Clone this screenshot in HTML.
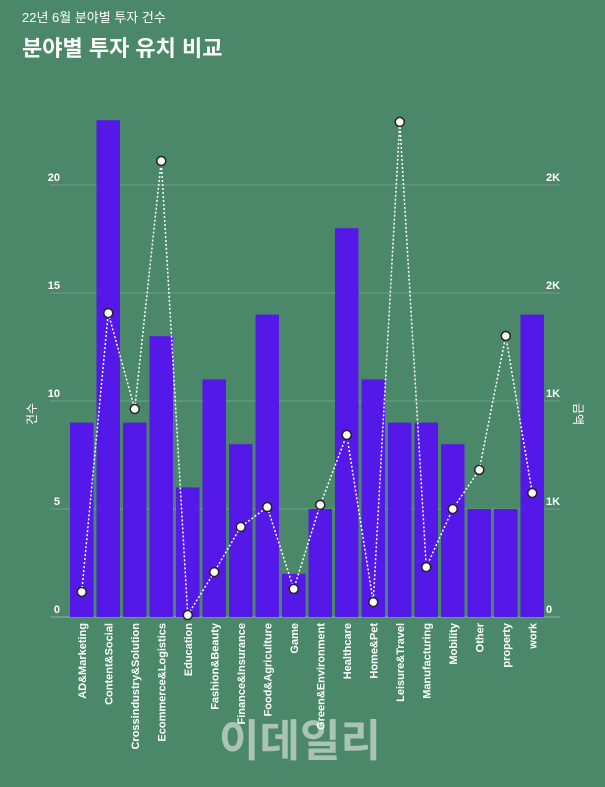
<!DOCTYPE html>
<html><head><meta charset="utf-8">
<style>
body{margin:0;background:#4b886a;width:605px;height:782px;overflow:hidden;font-family:"Liberation Sans","Noto Sans CJK KR",sans-serif}
</style></head>
<body>
<svg id="c" width="605" height="782" xmlns="http://www.w3.org/2000/svg">
<text x="22" y="22" font-size="13" fill="#fff" font-family="Liberation Sans, Noto Sans CJK KR, sans-serif">22년 6월 분야별 투자 건수</text>
<text x="22" y="56" font-size="22" font-weight="bold" fill="#fff" font-family="Liberation Sans, Noto Sans CJK KR, sans-serif">분야별 투자 유치 비교</text>
<text transform="translate(36,414) rotate(-90)" text-anchor="middle" font-size="12" fill="#fff" font-family="Liberation Sans, Noto Sans CJK KR, sans-serif">건수</text>
<text transform="translate(574,414) rotate(90)" text-anchor="middle" font-size="12" fill="#fff" font-family="Liberation Sans, Noto Sans CJK KR, sans-serif">금액</text>
<text x="300" y="756" text-anchor="middle" font-size="44" font-weight="bold" fill="#a9c4b4" font-family="Liberation Sans, Noto Sans CJK KR, sans-serif">이데일리</text>
<g id="g"></g>
</svg>
<script>
const categories=["AD&Marketing","Content&Social","Crossindustry&Solution","Ecommerce&Logistics","Education","Fashion&Beauty","Finance&Insurance","Food&Agriculture","Game","Green&Environment","Healthcare","Home&Pet","Leisure&Travel","Manufacturing","Mobility","Other","property","work"];
const counts=[9,23,9,13,6,11,8,14,2,5,18,11,9,9,8,5,5,14];
const amounts=[116,1407,963,2111,9,208,417,509,130,519,843,69,2292,231,500,681,1301,574];
const leftTicks=[0,5,10,15,20];
const rightTicks=[0,500,1000,1500,2000];
const rightTickLabels=["0","1K","1K","2K","2K"];
const NS="http://www.w3.org/2000/svg";
const g=document.getElementById('g');
const y0=617,pxPerUnit=21.6;
const yL=v=>y0-v*pxPerUnit;
const yR=v=>y0-v*0.216;
const step=26.5,bw=23.5;
const xC=i=>70+bw/2+i*step;
function mk(t,a){const e=document.createElementNS(NS,t);for(const k in a)e.setAttribute(k,a[k]);g.appendChild(e);return e;}
leftTicks.forEach((t,i)=>{
  const l=mk('line',{x1:50,x2:560,y1:yL(t),y2:yL(t),stroke:i==0?'#8fb09e':'#6f9f86','stroke-width':1});
  
  
  const tx=mk('text',{x:60,y:yL(t)-4,'text-anchor':'end','font-size':11,'font-weight':'bold',fill:'#fff'});
  tx.textContent=t;
  
  
});
rightTicks.forEach((t,i)=>{
  const tx=mk('text',{x:546,y:yR(t)-4,'font-size':11,'font-weight':'bold',fill:'#fff'});
  tx.textContent=rightTickLabels[i];
  
  
});
counts.forEach((v,i)=>{
  const r=mk('rect',{x:xC(i)-bw/2,y:yL(v),width:bw,height:v*pxPerUnit,fill:'#5419e8'});
  
  
  const tx=mk('text',{transform:`translate(${xC(i)+4},623) rotate(-90)`,'text-anchor':'end','font-size':11,'font-weight':'bold',fill:'#fff'});
  tx.textContent=categories[i];
  
  
});
const pl=mk('polyline',{points:amounts.map((v,i)=>xC(i)+','+yR(v)).join(' '),fill:'none',stroke:'#fff','stroke-width':1.5,'stroke-dasharray':'2,2'});


amounts.forEach((v,i)=>{
  const c=mk('circle',{cx:xC(i),cy:yR(v),r:4.5,fill:'#fff',stroke:'#222','stroke-width':1.5});
  
  
});
</script>
</body></html>
